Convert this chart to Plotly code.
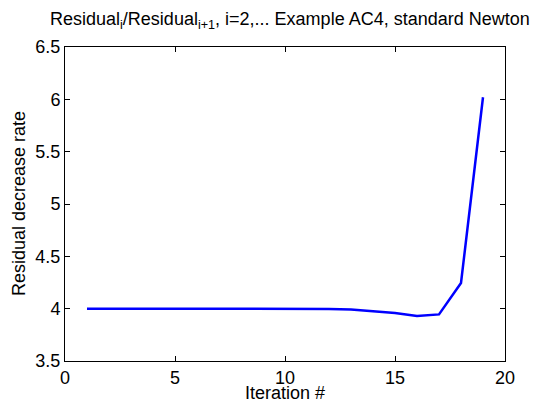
import plotly.graph_objects as go

iterations = list(range(1, 20))
rates = [4.0, 4.0, 4.0, 4.0, 4.0, 4.0, 4.0, 4.001, 4.001, 4.0, 4.0, 3.998,
         3.992, 3.978, 3.958, 3.929, 3.945, 4.245, 6.02]
x_ticks = [0, 5, 10, 15, 20]
y_ticks = [3.5, 4, 4.5, 5, 5.5, 6, 6.5]
y_tick_labels = ["3.5", "4", "4.5", "5", "5.5", "6", "6.5"]
title_text = "Residual<sub>i</sub>/Residual<sub>i+1</sub>, i=2,... Example AC4, standard Newton"
x_title = "Iteration #"
y_title = "Residual decrease rate"

fig = go.Figure()
fig.add_trace(go.Scatter(x=iterations, y=rates, mode="lines",
                         line=dict(color="#0000FF", width=2.5)))

font_family = "Liberation Sans, Arial, sans-serif"
# page body has an 8px margin; figure is sized to fit the 541x403 window
fig.update_layout(
    width=533, height=395,
    margin=dict(l=57, r=36, t=39, b=42, autoexpand=False),
    paper_bgcolor="white", plot_bgcolor="white",
    showlegend=False,
    font=dict(family=font_family, color="black", size=18),
)
fig.add_annotation(text=title_text, xref="paper", yref="paper", x=0.5, y=1,
                   xanchor="center", yanchor="middle", yshift=27, xshift=5,
                   showarrow=False, font=dict(size=18))
fig.add_annotation(text=x_title, xref="paper", yref="paper", x=0.5, y=0,
                   xanchor="center", yanchor="middle", yshift=-32, showarrow=False,
                   font=dict(size=18))
fig.add_annotation(text=y_title, xref="paper", yref="paper", x=0, y=0.5,
                   xanchor="center", yanchor="middle", xshift=-46, textangle=-90,
                   showarrow=False, font=dict(size=18))
fig.update_xaxes(range=[0, 20], tickvals=x_ticks, ticks="inside", ticklen=5,
                 tickcolor="black", showline=True, linecolor="black", linewidth=1,
                 mirror="ticks", showgrid=False, zeroline=False, automargin=False,
                 tickfont=dict(size=18))
fig.update_yaxes(range=[3.5, 6.5], tickvals=y_ticks, ticktext=y_tick_labels,
                 ticks="inside", ticklen=5, tickcolor="black",
                 showline=True, linecolor="black", linewidth=1,
                 mirror="ticks", showgrid=False, zeroline=False, automargin=False,
                 tickfont=dict(size=18))

fig.write_html("out.html")
